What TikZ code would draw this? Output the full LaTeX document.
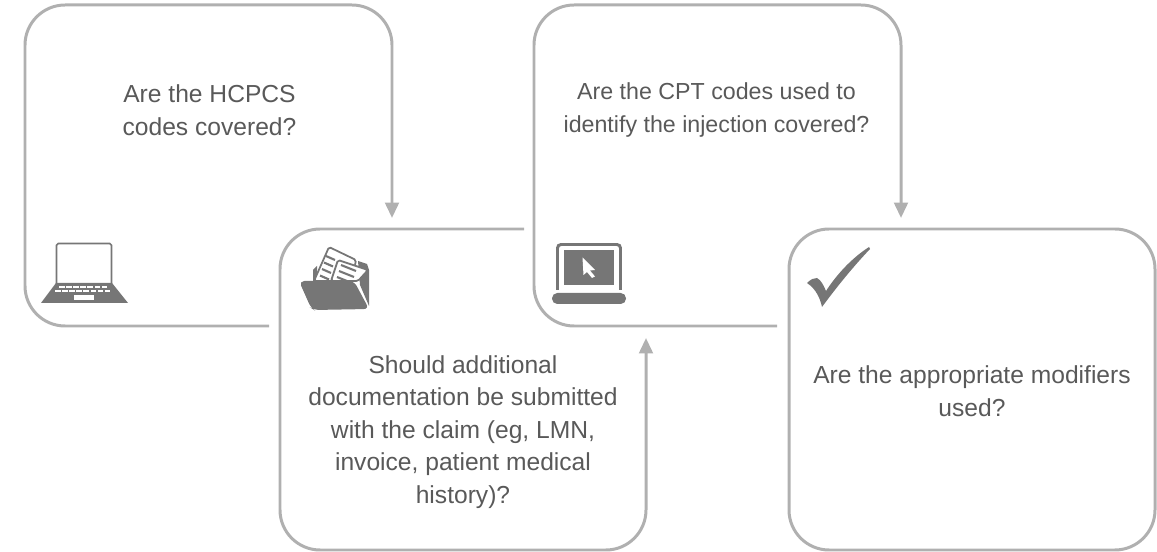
\documentclass[tikz,border=0pt]{standalone}
\usepackage{fontspec}
\setmainfont{Liberation Sans}
\usetikzlibrary{arrows.meta}

\begin{document}
\begin{tikzpicture}
		[x=0.01cm,y=-0.01cm,line cap=butt,
		%Styles
		frame line/.style={draw=framecolor,line width=0.85pt,rounded corners=11.4pt},
		frame arrow/.style={frame line,-{Triangle[length=4.4pt,width=3.9pt]}},
		question/.style={text=textcolor,font=\fontsize{7}{9.25}\selectfont,align=center,inner sep=0pt},
		icon/.style={fill=iconcolor,draw=none},
		key/.style={fill=white,draw=none}
		]
		
		%Colors
		\definecolor{framecolor}{HTML}{B0B0B0}
		\definecolor{textcolor}{HTML}{595959}
		\definecolor{iconcolor}{HTML}{767676}
		
		\useasboundingbox (0,0) rectangle (1157,552);
		
		%The frames
		\draw[frame arrow] (269,326) -- (25,326) -- (25,5) -- (392,5) -- (392,218);
		\draw[frame arrow] (524,229) -- (280,229) -- (280,550) -- (646,550) -- (646,338);
		\draw[frame arrow] (777,326) -- (534,326) -- (534,5) -- (901,5) -- (901,218);
		\draw[frame line] (789,229) rectangle (1155,550);
		
		%The questions
		\node[question] (hcpcs) at (209.5,110) {Are the HCPCS\\codes covered?};
		\node[question,font=\fontsize{6.6}{9.25}\selectfont] (cpt) at (716.5,110) {Are the CPT codes used to\\identify the injection covered?};
		\node[question] (doc) at (463,432) {Should additional\\documentation be submitted\\with the claim (eg, LMN,\\invoice, patient medical\\history)?};
		\node[question] (modifiers) at (972,391) {Are the appropriate modifiers\\used?};
		
		%Open laptop
		\draw[iconcolor,line width=0.5pt,rounded corners=0.5pt] (56.5,284) -- (56.5,243.5) -- (111.5,243.5) -- (111.5,284);
		\fill[icon] (56,283) -- (112,283) -- (128,303) -- (41,303) -- cycle;
		\foreach \i in {0,...,6}
			\fill[key] (59+\i*7.1,286) rectangle +(5.6,2);
		\foreach \i in {0,...,7}
			\fill[key] (55+\i*7.1,290.5) rectangle +(5.6,2);
		\fill[key] (74,295.5) rectangle (94,300);
		
		%Folder
		\fill[icon] (358,261) -- (367,264) -- (369,270) -- (369,306) -- (360,285) -- cycle;
		\fill[icon] (313,270) -- (317,266) -- (317,281) -- (313,281) -- cycle;
		\draw[iconcolor,line width=0.5pt,fill=white,rounded corners=0.5pt] (314,281) -- (329,247) -- (356,260) -- (352,281) -- cycle;
		\draw[iconcolor,line width=0.5pt,fill=white,rounded corners=0.5pt] (331,281) -- (338,260) -- (368,270) -- (358,281) -- cycle;
		\foreach \i in {0,1,2,3}
			\draw[iconcolor,line width=0.6pt] (326-\i*2,256+\i*6.5) -- +(9,4);
		\foreach \i in {0,1,2}
			\draw[iconcolor,line width=0.6pt] (341-\i*2,265+\i*6) -- +(15,6);
		\fill[icon,rounded corners=1.5pt] (299,281) -- (354,281) -- (369,309) -- (314,310) -- (311,308) -- cycle;
		
		%Laptop with cursor
		\draw[iconcolor,line width=0.85pt,rounded corners=1pt] (557.5,290) -- (557.5,244.5) -- (620.5,244.5) -- (620.5,290);
		\fill[icon] (564,250) rectangle (614,285);
		\fill[icon,rounded corners=1.5pt] (552,293) rectangle (626,304);
		\fill[key] (582.5,257.5) -- (595,270) -- (590,270.5) -- (595,276.5) -- (592,278) -- (587,272) -- (583.5,275) -- cycle;
		
		%Check mark
		\fill[icon] (807,283) .. controls (811,279) and (814,278) .. (817,278) .. controls (821,280) and (824,286) .. (826,291) .. controls (837,274) and (852,258) .. (869,247) -- (870,249) .. controls (852,268) and (836,288) .. (822,307) .. controls (820,298) and (816,289) .. (807,283) -- cycle;
	\end{tikzpicture}
\end{document}
